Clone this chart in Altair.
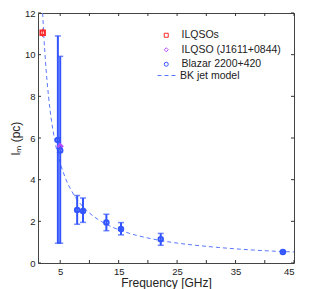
import altair as alt
import pandas as pd

# Blazar 2200+420
bx = [4.6, 5.0, 7.9, 8.9, 12.9, 15.4, 22.2, 43.1]
by = [5.9, 5.4, 2.55, 2.5, 1.95, 1.63, 1.14, 0.53]
blo = [0.95, 0.95, 1.86, 1.95, 1.55, 1.35, 0.85, 0.48]
bhi = [10.9, 9.92, 3.24, 3.12, 2.34, 1.94, 1.42, 0.58]

# ILQSOs
qx = [2.0]
qy = [11.05]
qlo = [10.85]
qhi = [11.25]

# ILQSO (J1611+0844)
jx = [5.0]
jy = [5.6]

# BK jet model
mx = [2.0, 2.2, 2.5, 3, 3.5, 4, 4.5, 5, 6, 7, 8, 9, 10, 12, 14, 16, 18, 20, 23, 26, 30, 35, 40, 45]
my = [12.0, 10.9, 9.6, 8.0, 6.85, 6.0, 5.3, 4.8, 4.0, 3.43, 3.0, 2.67, 2.4, 2.0, 1.71, 1.5, 1.33, 1.2, 1.04, 0.92, 0.8, 0.68, 0.59, 0.53]

xticks = [5, 10, 15, 20, 25, 30, 35, 40, 45]
yticks = [0, 2, 4, 6, 8, 10, 12]

names = ["ILQSOs", "ILQSO (J1611+0844)", "Blazar 2200+420"]
colors = ["#ff2a2a", "#b44dff", "#3355ff"]
BLUE = "#3355ff"

W, H = 256, 250

xs = alt.Scale(domain=[1.2, 45], nice=False, zero=False)
ys = alt.Scale(domain=[0, 12], nice=False, zero=False)

xax = alt.Axis(values=xticks, ticks=False, domain=False, grid=False, labelPadding=3,
               title="Frequency [GHz]", titlePadding=2)
yax = alt.Axis(values=yticks, ticks=False, domain=False, grid=False, labelPadding=3,
               title="lₘ (pc)", titlePadding=2)

blazar = pd.DataFrame({"x": bx, "y": by, "lo": blo, "hi": bhi})
qso = pd.DataFrame({"x": qx, "y": qy, "lo": qlo, "hi": qhi})
pts = pd.DataFrame({
    "x": qx + jx + bx,
    "y": qy + jy + by,
    "series": [names[0]] * len(qx) + [names[1]] * len(jx) + [names[2]] * len(bx),
})
model = pd.DataFrame({"x": mx, "y": my, "m": ["BK jet model"] * len(mx)})
xt = pd.DataFrame({"v": xticks})
yt = pd.DataFrame({"v": yticks})

curve = alt.Chart(model).mark_line(color="#5a78ff", strokeWidth=1, clip=True, interpolate="monotone").encode(
    x=alt.X("x:Q", scale=xs, axis=xax),
    y=alt.Y("y:Q", scale=ys, axis=yax),
    strokeDash=alt.StrokeDash("m:N", scale=alt.Scale(domain=["BK jet model"], range=[[4, 3]]),
                              legend=alt.Legend(title=None, orient="none", legendX=119, legendY=52,
                                                symbolType="stroke", symbolSize=400,
                                                symbolStrokeColor="#5a78ff", symbolStrokeWidth=1,
                                                labelOffset=2, labelFontSize=10.5, padding=0,
                                                labelColor="#222")),
)

bars = alt.Chart(blazar).mark_rule(color=BLUE, strokeWidth=2).encode(
    x=alt.X("x:Q", scale=xs), y=alt.Y("lo:Q", scale=ys), y2="hi:Q")
capl = alt.Chart(blazar).mark_tick(color=BLUE, thickness=1.5, size=6, orient="horizontal").encode(
    x=alt.X("x:Q", scale=xs), y=alt.Y("lo:Q", scale=ys))
caph = alt.Chart(blazar).mark_tick(color=BLUE, thickness=1.5, size=6, orient="horizontal").encode(
    x=alt.X("x:Q", scale=xs), y=alt.Y("hi:Q", scale=ys))

qbar = alt.Chart(qso).mark_rule(color=colors[0], strokeWidth=1).encode(
    x=alt.X("x:Q", scale=xs), y=alt.Y("lo:Q", scale=ys), y2="hi:Q")

points = alt.Chart(pts).mark_point(filled=False, strokeWidth=2, size=20, opacity=1).encode(
    x=alt.X("x:Q", scale=xs),
    y=alt.Y("y:Q", scale=ys),
    color=alt.Color("series:N", scale=alt.Scale(domain=names, range=colors),
                    legend=alt.Legend(title=None, orient="none", legendX=123, legendY=17,
                                      symbolSize=16, symbolStrokeWidth=1, labelOffset=10,
                                      labelFontSize=10.5, rowPadding=3.5, padding=0,
                                      labelColor="#222", symbolFillColor="transparent")),
    shape=alt.Shape("series:N", scale=alt.Scale(domain=names, range=["square", "diamond", "circle"])),
)

TK = "#333333"
tb = alt.Chart(xt).mark_rule(color=TK, strokeWidth=1).encode(
    x=alt.X("v:Q", scale=xs), y=alt.value(H), y2=alt.value(H - 3))
tt = alt.Chart(xt).mark_rule(color=TK, strokeWidth=1).encode(
    x=alt.X("v:Q", scale=xs), y=alt.value(0), y2=alt.value(3))
tl = alt.Chart(yt).mark_rule(color=TK, strokeWidth=1).encode(
    y=alt.Y("v:Q", scale=ys), x=alt.value(0), x2=alt.value(3))
tr = alt.Chart(yt).mark_rule(color=TK, strokeWidth=1).encode(
    y=alt.Y("v:Q", scale=ys), x=alt.value(W), x2=alt.value(W - 3))

chart = alt.layer(curve, bars, capl, caph, qbar, points, tb, tt, tl, tr).resolve_scale(
    color="independent", shape="independent"
).properties(
    width=W, height=H,
    autosize=alt.AutoSizeParams(type="none"),
    padding={"left": 30, "top": 5, "right": 16, "bottom": 26},
).configure_view(
    stroke="#444444", strokeWidth=1
).configure_axis(
    labelFont="Liberation Sans", titleFont="Liberation Sans", labelFontSize=9.5,
    titleFontSize=12, titleFontWeight="normal", labelColor="#222", titleColor="#222"
).configure_legend(
    labelFont="Liberation Sans"
)

chart.save("out.html", embed_options={"renderer": "svg", "actions": False})
